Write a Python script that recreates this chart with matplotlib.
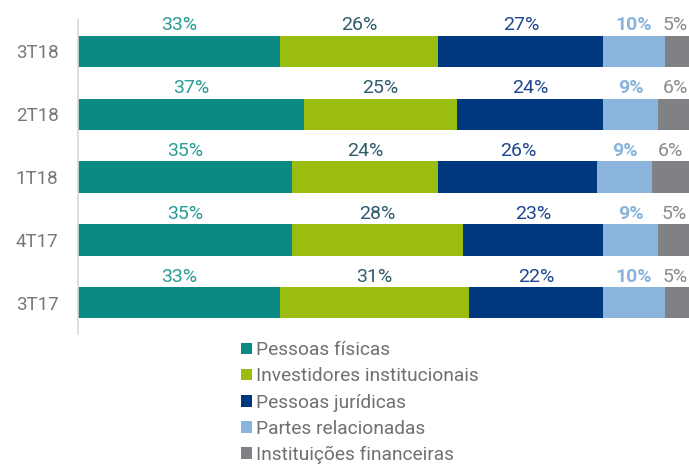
import numpy as np
import matplotlib.pyplot as plt
from matplotlib.patches import Patch

plt.rcParams['font.family'] = ['Roboto', 'DejaVu Sans']

periods = ['3T17', '4T17', '1T18', '2T18', '3T18']
series = ['Pessoas físicas', 'Investidores institucionais', 'Pessoas jurídicas',
          'Partes relacionadas', 'Instituições financeiras']
pessoas_fisicas = [33, 35, 35, 37, 33]
investidores = [31, 28, 24, 25, 26]
pessoas_juridicas = [22, 23, 26, 24, 27]
partes_relacionadas = [10, 9, 9, 9, 10]
instituicoes = [5, 5, 6, 6, 5]

values = [pessoas_fisicas, investidores, pessoas_juridicas, partes_relacionadas, instituicoes]
colors = ['#0a8985', '#9bbd10', '#00387f', '#8ab4db', '#808184']
label_colors = ['#2a9b95', '#2f5c6c', '#1f4690', '#8ab4db', '#8a8a8a']

fig = plt.figure(figsize=(6.89, 4.68), dpi=100)
ax = fig.add_axes([78 / 689, 1 - 334 / 468, 1 - 78 / 689, 314 / 468])

y = np.arange(len(periods))
left = np.zeros(len(periods))
for i, vals in enumerate(values):
    vals = np.array(vals, dtype=float)
    ax.barh(y, vals, left=left, height=0.5, color=colors[i], label=series[i])
    for j, v in enumerate(vals):
        cx = min(left[j] + v / 2, 100 - 2.3)
        ax.text(cx, y[j] + 0.27, f'{int(v)}%', ha='center', va='bottom',
                fontsize=14, color=label_colors[i],
                fontweight='bold' if i == 3 else 'normal', clip_on=False)
    left += vals

ax.set_xlim(0, 100)
ax.set_ylim(-0.5, 4.5)
ax.set_yticks(y)
ax.set_yticklabels(periods, fontsize=13.5, color='#777777')
ax.tick_params(axis='y', length=0, pad=14)
ax.set_xticks([])
for s in ['top', 'right', 'bottom']:
    ax.spines[s].set_visible(False)
ax.spines['left'].set_color('#d9d9d9')
ax.spines['left'].set_linewidth(1.2)

handles = [Patch(facecolor=c, label=s) for c, s in zip(colors, series)]
fig.legend(handles=handles, loc='upper left', bbox_to_anchor=(228 / 689, 1 - 328 / 468),
           frameon=False, fontsize=13.8, labelcolor='#707070',
           handlelength=0.55, handleheight=0.55, handletextpad=0.2,
           labelspacing=0.42, borderpad=0.2)

fig.savefig('out.png', dpi=100)
